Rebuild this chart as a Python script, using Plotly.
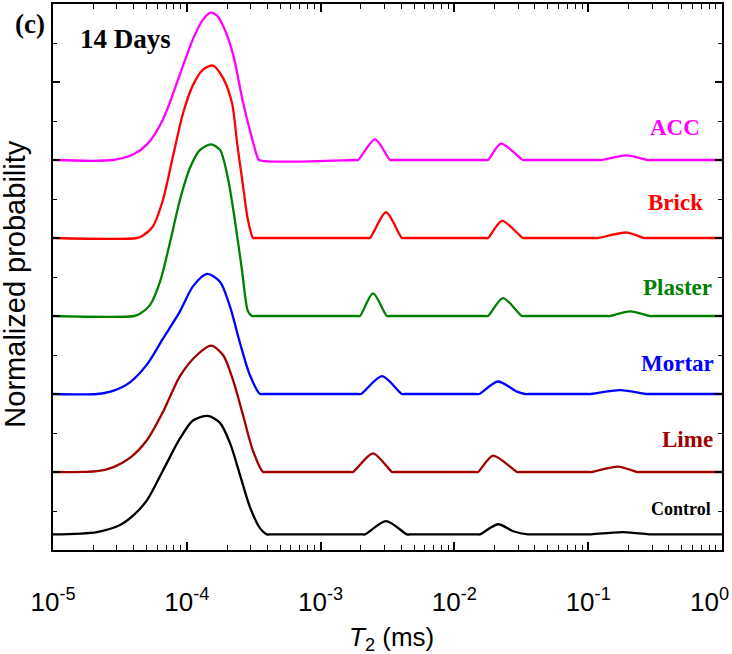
import plotly.graph_objects as go

# ---- data: log10(T2 / ms) and amplitude above each curve's baseline ----
acc_logT2 = [-5.0, -4.552, -4.402, -4.297, -4.178, -4.051, -3.954, -3.879, -3.819, -3.774, -3.729, -3.655, -3.580, -3.513, -3.475, -3.460,
             -2.740, -2.720, -2.593, -2.481, -2.460, -1.770, -1.749, -1.652, -1.487, -1.465, -0.920, -0.897, -0.710, -0.561, -0.540, 0.0]
acc_amp = [0, 0, 0.07, 0.20, 0.52, 1.10, 1.55, 1.80, 1.89, 1.85, 1.72, 1.36, 0.74, 0.28, 0.05, 0,
           0, 0, 0.265, 0, 0, 0, 0, 0.21, 0, 0, 0, 0, 0.06, 0, 0, 0]

brick_logT2 = [-5.0, -4.372, -4.330, -4.253, -4.178, -4.103, -4.028, -3.954, -3.879, -3.804, -3.729, -3.662, -3.625, -3.580, -3.543, -3.505, -3.485,
               -2.650, -2.631, -2.511, -2.392, -2.370, -1.770, -1.749, -1.644, -1.487, -1.465, -0.950, -0.927, -0.710, -0.583, -0.560, 0.0]
brick_amp = [0, 0, 0.03, 0.15, 0.49, 1.05, 1.60, 1.96, 2.16, 2.21, 2.05, 1.73, 1.23, 0.67, 0.23, 0, 0,
             0, 0, 0.33, 0, 0, 0, 0, 0.22, 0, 0, 0, 0, 0.07, 0, 0, 0]

plaster_logT2 = [-5.0, -4.395, -4.350, -4.275, -4.200, -4.126, -4.051, -3.976, -3.901, -3.819, -3.752, -3.692, -3.640, -3.587, -3.543, -3.513, -3.490,
                 -2.725, -2.706, -2.608, -2.504, -2.480, -1.770, -1.749, -1.637, -1.495, -1.470, -0.860, -0.837, -0.688, -0.538, -0.515, 0.0]
plaster_amp = [0, 0, 0.03, 0.14, 0.44, 0.94, 1.49, 1.90, 2.13, 2.20, 2.13, 1.76, 1.22, 0.58, 0.06, 0, 0,
               0, 0, 0.29, 0, 0, 0, 0, 0.23, 0, 0, 0, 0, 0.06, 0, 0, 0]

mortar_logT2 = [-5.0, -4.671, -4.552, -4.425, -4.297, -4.178, -4.051, -3.954, -3.849, -3.752, -3.677, -3.602, -3.528, -3.453, -3.430,
                -2.720, -2.698, -2.541, -2.392, -2.370, -1.840, -1.816, -1.674, -1.532, -1.472, -1.450, -1.010, -0.987, -0.762, -0.561, -0.540, 0.0]
mortar_amp = [0, 0, 0.04, 0.15, 0.38, 0.71, 1.06, 1.38, 1.54, 1.44, 1.12, 0.65, 0.24, 0, 0,
              0, 0, 0.23, 0, 0, 0, 0, 0.16, 0.03, 0, 0, 0, 0, 0.05, 0, 0, 0]

lime_logT2 = [-5.0, -4.671, -4.552, -4.425, -4.297, -4.178, -4.051, -3.924, -3.819, -3.729, -3.655, -3.580, -3.505, -3.430, -3.410,
              -2.780, -2.758, -2.608, -2.466, -2.445, -1.845, -1.824, -1.711, -1.532, -1.510, -0.995, -0.972, -0.777, -0.635, -0.615, 0.0]
lime_amp = [0, 0.01, 0.06, 0.18, 0.41, 0.77, 1.23, 1.50, 1.62, 1.50, 1.18, 0.73, 0.27, 0, 0,
            0, 0, 0.24, 0, 0, 0, 0, 0.21, 0, 0, 0, 0, 0.07, 0, 0, 0]

control_logT2 = [-5.0, -4.671, -4.499, -4.402, -4.297, -4.178, -4.051, -3.954, -3.842, -3.752, -3.677, -3.602, -3.528, -3.453, -3.401, -3.380,
                 -2.690, -2.668, -2.511, -2.354, -2.330, -1.830, -1.809, -1.674, -1.560, -1.450, -1.430, -1.010, -0.987, -0.740, -0.538, -0.515, 0.0]
control_amp = [0, 0.03, 0.12, 0.24, 0.44, 0.82, 1.23, 1.46, 1.52, 1.43, 1.17, 0.76, 0.35, 0.08, 0, 0,
               0, 0, 0.17, 0, 0, 0, 0, 0.13, 0.04, 0, 0, 0, 0, 0.03, 0, 0, 0]

series_names = ["Control", "Lime", "Mortar", "Plaster", "Brick", "ACC"]
series_offsets = [0.2, 1.0, 2.0, 3.0, 4.0, 5.0]
series_colors = ["#000000", "#A00000", "#0000FF", "#008000", "#FF0000", "#FF00FF"]
series_logT2 = [control_logT2, lime_logT2, mortar_logT2, plaster_logT2, brick_logT2, acc_logT2]
series_amp = [control_amp, lime_amp, mortar_amp, plaster_amp, brick_amp, acc_amp]

x_tick_exponents = [-5, -4, -3, -2, -1, 0]
y_major_ticks = [0, 1, 2, 3, 4, 5, 6, 7]
y_minor_ticks = [0.5, 1.5, 2.5, 3.5, 4.5, 5.5, 6.5]

# label placement (paper coords) and font sizes
label_pos = {
    "ACC": (0.930, 0.773, 23),
    "Brick": (0.931, 0.636, 23),
    "Plaster": (0.933, 0.480, 23),
    "Mortar": (0.934, 0.342, 23),
    "Lime": (0.949, 0.203, 23),
    "Control": (0.939, 0.075, 18),
}

fig = go.Figure()
for name, off, col, lx, amp in zip(series_names, series_offsets, series_colors, series_logT2, series_amp):
    fig.add_trace(go.Scatter(
        x=[10 ** v for v in lx],
        y=[off + a for a in amp],
        mode="lines",
        line=dict(color=col, width=2.3, shape="spline", smoothing=0.8),
        name=name,
        showlegend=False,
        hoverinfo="skip",
    ))

major_vals = [10.0 ** e for e in x_tick_exponents]
# the last label (10^0) sits at the frame edge; it is placed as an annotation below
major_text = ["10<sup>%d</sup>" % e for e in x_tick_exponents[:-1]] + [""]
minor_vals = [k * 10.0 ** e for e in x_tick_exponents[:-1] for k in range(2, 10)]

fig.update_xaxes(
    type="log", range=[-5, 0], automargin=False,
    tickmode="array", tickvals=major_vals, ticktext=major_text,
    ticks="inside", ticklen=8, tickwidth=1.6, tickcolor="black",
    minor=dict(tickmode="array", tickvals=minor_vals, ticks="inside", ticklen=5, tickwidth=1.4, tickcolor="black", showgrid=False),
    showline=True, linecolor="black", linewidth=2, mirror="allticks",
    showgrid=False, zeroline=False,
    tickfont=dict(family="Liberation Sans, Arial", size=26, color="black"),
    ticklabelstandoff=28,
)
fig.update_yaxes(
    range=[0, 7], automargin=False,
    tickmode="array", tickvals=y_major_ticks, showticklabels=False,
    ticks="inside", ticklen=7, tickwidth=1.6, tickcolor="black",
    minor=dict(tickmode="array", tickvals=y_minor_ticks, ticks="inside", ticklen=4, tickwidth=1.4, tickcolor="black", showgrid=False),
    showline=True, linecolor="black", linewidth=2, mirror="allticks",
    showgrid=False, zeroline=False,
)

annotations = []
for name, col in zip(series_names, series_colors):
    px, py, fs = label_pos[name]
    annotations.append(dict(x=px, y=py, xref="paper", yref="paper", text="<b>%s</b>" % name,
                            showarrow=False, xanchor="center", yanchor="middle",
                            font=dict(family="Liberation Serif, Times New Roman", size=fs, color=col)))
annotations.append(dict(x=-0.034, y=0.963, xref="paper", yref="paper", text="<b>(c)</b>", showarrow=False,
                        xanchor="center", yanchor="middle",
                        font=dict(family="Liberation Serif, Times New Roman", size=27, color="black")))
annotations.append(dict(x=0.108, y=0.936, xref="paper", yref="paper", text="<b>14 Days</b>", showarrow=False,
                        xanchor="center", yanchor="middle",
                        font=dict(family="Liberation Serif, Times New Roman", size=27, color="black")))
annotations.append(dict(x=-0.056, y=0.487, xref="paper", yref="paper", text="Normalized probability", textangle=-90,
                        showarrow=False, xanchor="center", yanchor="middle",
                        font=dict(family="Liberation Sans, Arial", size=29, color="black")))
annotations.append(dict(x=0.506, y=-0.163, xref="paper", yref="paper", text="<i>T</i><sub>2</sub> (ms)",
                        showarrow=False, xanchor="center", yanchor="middle",
                        font=dict(family="Liberation Sans, Arial", size=26, color="black")))
annotations.append(dict(x=1.0, y=-0.092, xref="paper", yref="paper", text="10<sup>0</sup>",
                        showarrow=False, xanchor="right", yanchor="middle", xshift=9,
                        font=dict(family="Liberation Sans, Arial", size=26, color="black")))

fig.update_layout(
    width=732, height=654,
    margin=dict(l=53, r=10, t=4, b=104),
    paper_bgcolor="white", plot_bgcolor="white",
    annotations=annotations,
)

fig.write_html("out.html", config={"displayModeBar": False},
               post_script="document.body.style.margin='0';")
